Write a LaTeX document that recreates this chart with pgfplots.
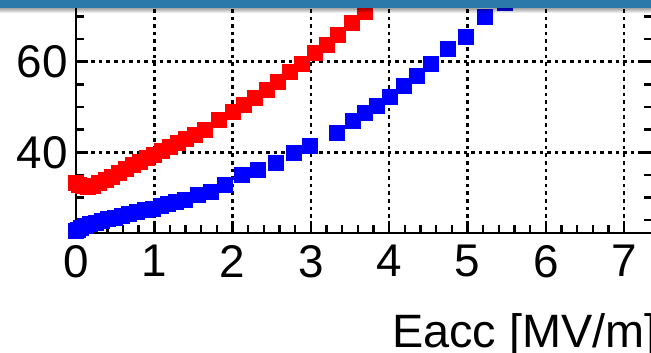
\documentclass[border=0pt]{standalone}
\usepackage{fontspec}
\setmainfont{Liberation Sans}
\usepackage{pgfplots}
\pgfplotsset{compat=1.18}
\usetikzlibrary{fadings}

\definecolor{barblue}{RGB}{43,121,170}

% Blue series
\pgfplotstableread{
x y
0.00 22.6
0.03 22.9
0.07 23.3
0.12 23.7
0.18 24.1
0.25 24.5
0.33 24.9
0.41 25.2
0.50 25.6
0.59 26.0
0.68 26.4
0.78 26.8
0.88 27.2
0.98 27.5
1.08 28.1
1.18 28.6
1.28 29.0
1.39 29.5
1.56 30.6
1.73 31.3
1.90 32.8
2.12 35.1
2.33 36.0
2.56 37.7
2.78 39.8
2.99 41.4
3.33 44.3
3.54 46.8
3.69 48.6
3.84 50.2
4.01 52.3
4.19 54.6
4.36 56.8
4.54 59.6
4.75 62.7
4.98 65.5
5.22 69.9
5.48 73.0
}\bluedata

% Red series
\pgfplotstableread{
x y
0.00 33.3
0.04 32.8
0.09 32.5
0.15 32.4
0.22 32.6
0.30 33.2
0.38 33.9
0.46 34.6
0.55 35.4
0.64 36.3
0.73 37.1
0.82 37.9
0.91 38.7
1.00 39.5
1.10 40.3
1.20 41.2
1.30 42.0
1.40 42.9
1.52 43.8
1.65 44.9
1.82 47.1
2.01 49.0
2.14 50.4
2.29 51.9
2.44 53.8
2.58 55.6
2.73 57.8
2.88 59.6
3.05 61.9
3.20 63.7
3.35 65.9
3.52 68.5
3.69 71.0
3.86 73.6
}\reddata

\begin{document}
\begin{tikzpicture}
\path[use as bounding box] (-76bp,-120bp) rectangle (575bp,233bp);
\clip (-76bp,-120bp) rectangle (575bp,233bp);
\begin{axis}[
  at={(0,0)}, anchor=south west,
  scale only axis,
  width=576.3bp, height=243.8bp,
  xmin=0, xmax=7.36,
  ymin=22.19, ymax=76,
  xtick={0,1,...,7},
  ytick={20,40,60,80},
  minor x tick num=4,
  minor y tick num=3,
  tick align=inside,
  major tick length=12bp,
  minor tick length=8bp,
  axis line style={line width=2.8bp},
  every tick/.style={black, line width=2.4bp},
  grid=major,
  major grid style={black, line width=2.4bp, dash pattern=on 3.6bp off 4bp},
  /pgf/number format/assume math mode=true,
  tick label style={font=\fontsize{46}{46}\selectfont, inner sep=0pt},
  xticklabel style={yshift=-12bp},
  yticklabel style={xshift=-8bp},
]
\addplot[only marks, mark=square*, mark size=7.5bp,
  mark options={draw=red, fill=red, line width=0pt}] table[x=x, y=y] {\reddata};
\addplot[only marks, mark=square*, mark size=7.5bp,
  mark options={draw=blue, fill=blue, line width=0pt}] table[x=x, y=y] {\bluedata};
\end{axis}
% axis title
\node[anchor=base west, inner sep=0pt, font=\fontsize{47}{47}\selectfont]
  at (316bp,-114bp) {Eacc [MV/m]};
% header band with its drop shadow
\fill[black, opacity=0.35, path fading=south] (-76bp,220bp) rectangle (575bp,224.6bp);
\fill[barblue] (-76bp,224.5bp) rectangle (575bp,234bp);
\end{tikzpicture}
\end{document}
